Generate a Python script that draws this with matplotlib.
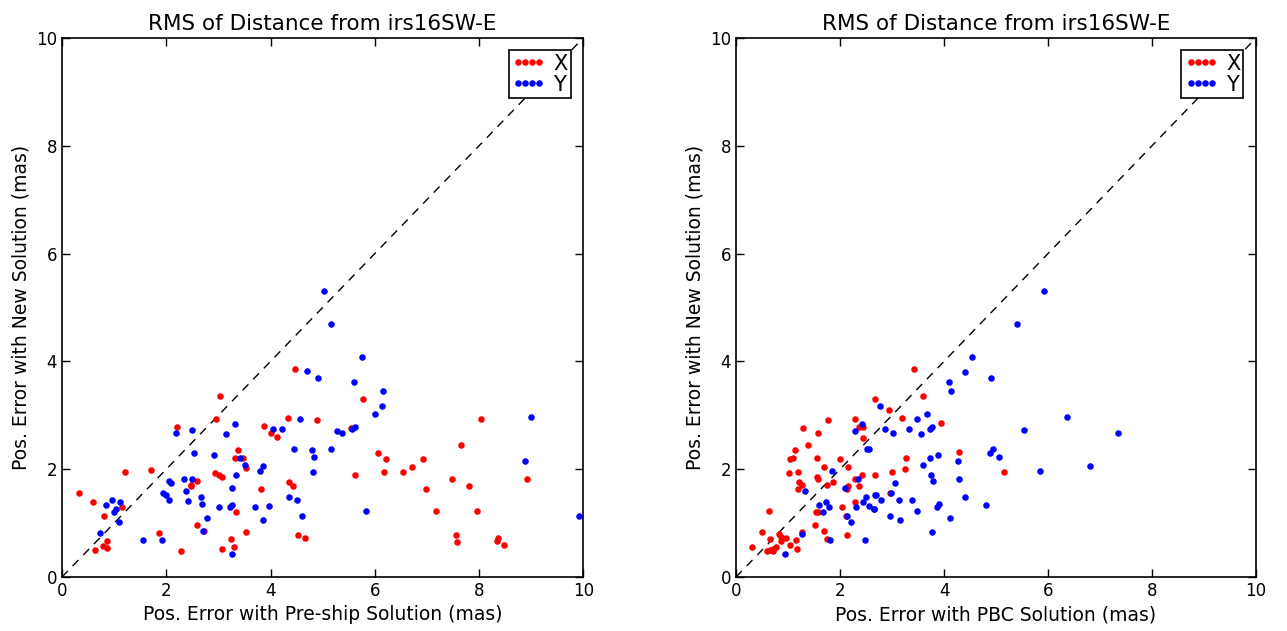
import matplotlib
matplotlib.use('Agg')
import matplotlib.pyplot as plt

# left panel: pre-ship solution vs new solution
pre_x_err = [3.04, 2.95, 2.21, 3.37, 3.31, 1.20, 1.70, 0.33, 0.60, 1.16, 0.81, 2.93, 3.01, 3.07,
             2.59, 2.48, 2.47, 3.33, 2.59, 2.73, 1.86, 0.86, 0.78, 0.87, 0.63, 2.28, 3.24, 3.30,
             3.07, 4.46, 5.78, 4.33, 4.89, 3.87, 4.00, 4.12, 5.54, 3.48, 3.53, 6.07, 6.21, 6.17,
             6.54, 5.62, 3.81, 4.36, 4.44, 3.52, 4.52, 4.67, 8.04, 7.65, 6.92, 6.72, 7.49, 7.80,
             6.98, 8.92, 7.17, 7.96, 7.56, 7.58, 8.34, 8.36, 8.48]
new_x_err_l = [3.35, 2.93, 2.79, 2.35, 2.21, 1.94, 1.99, 1.56, 1.40, 1.30, 1.13, 1.92, 1.90, 1.85,
               1.78, 1.71, 1.68, 1.21, 0.96, 0.85, 0.82, 0.67, 0.57, 0.54, 0.50, 0.48, 0.71, 0.56,
               0.52, 3.85, 3.30, 2.95, 2.91, 2.80, 2.68, 2.59, 2.76, 2.21, 2.03, 2.30, 2.18, 1.95,
               1.94, 1.89, 1.63, 1.77, 1.68, 0.83, 0.78, 0.72, 2.94, 2.45, 2.18, 2.04, 1.81, 1.69,
               1.64, 1.81, 1.22, 1.22, 0.78, 0.65, 0.67, 0.72, 0.59]
pre_y_err = [2.18, 2.50, 3.31, 3.15, 2.54, 2.92, 3.41, 3.34, 2.05, 2.10, 2.34, 2.50, 3.27, 2.38,
             1.94, 1.99, 2.05, 2.42, 2.67, 2.69, 3.02, 3.22, 3.26, 2.78, 2.71, 0.95, 0.85, 1.11,
             1.04, 1.00, 1.09, 0.73, 1.55, 1.91, 3.26, 5.03, 5.16, 5.75, 4.70, 4.91, 5.60, 6.16,
             6.14, 6.00, 4.56, 4.04, 4.22, 5.27, 5.38, 5.57, 5.62, 4.45, 4.79, 4.83, 5.16, 3.51,
             3.85, 3.80, 4.81, 4.36, 4.50, 4.60, 3.70, 3.97, 3.85, 5.84, 9.00, 8.89, 9.92]
new_y_err_l = [2.68, 2.73, 2.84, 2.66, 2.30, 2.26, 2.21, 1.90, 1.79, 1.75, 1.81, 1.81, 1.65, 1.59,
               1.56, 1.53, 1.42, 1.41, 1.48, 1.35, 1.29, 1.29, 1.34, 1.09, 0.85, 1.43, 1.34, 1.40,
               1.27, 1.21, 1.02, 0.81, 0.69, 0.69, 0.43, 5.30, 4.70, 4.08, 3.82, 3.69, 3.61, 3.45,
               3.18, 3.02, 2.94, 2.75, 2.75, 2.71, 2.68, 2.75, 2.78, 2.37, 2.36, 2.23, 2.37, 2.08,
               2.06, 1.97, 1.95, 1.49, 1.42, 1.14, 1.29, 1.31, 1.06, 1.22, 2.96, 2.15, 1.14]

# right panel: PBC solution vs new solution
pbc_x_err = [2.67, 1.76, 2.29, 2.37, 2.45, 1.29, 1.57, 2.45, 1.38, 1.13, 1.04, 1.09, 1.56, 2.00,
             1.69, 2.15, 1.01, 1.19, 2.67, 1.56, 1.57, 1.22, 1.26, 1.19, 1.75, 1.87, 2.29, 2.37,
             2.15, 2.14, 2.42, 0.64, 1.53, 1.57, 2.03, 2.29, 2.11, 1.51, 1.69, 2.13, 1.74, 0.49,
             0.65, 0.83, 0.87, 0.96, 0.87, 1.26, 1.15, 1.03, 1.17, 0.30, 0.60, 0.66, 0.72, 0.76,
             0.71, 3.43, 3.59, 2.94, 3.19, 3.94, 3.26, 3.25, 3.00, 4.29, 5.15, 2.96]
new_x_err_r = [3.30, 2.91, 2.94, 2.79, 2.79, 2.76, 2.68, 2.58, 2.45, 2.35, 2.18, 2.20, 2.21, 2.18,
               2.04, 2.04, 1.92, 1.95, 1.89, 1.86, 1.82, 1.77, 1.70, 1.64, 1.71, 1.76, 1.81, 1.69,
               1.69, 1.63, 1.89, 1.22, 1.21, 1.21, 1.30, 1.40, 1.14, 0.96, 0.85, 0.78, 0.71, 0.83,
               0.71, 0.80, 0.74, 0.72, 0.66, 0.83, 0.68, 0.59, 0.52, 0.56, 0.48, 0.50, 0.51, 0.55,
               0.49, 3.85, 3.35, 3.09, 2.95, 2.85, 2.20, 2.00, 1.94, 2.31, 1.94, 1.56]
pbc_y_err = [2.43, 2.28, 2.52, 2.56, 1.85, 2.35, 2.10, 1.33, 1.60, 1.73, 1.78, 1.68, 2.49, 2.44,
             2.55, 2.65, 2.67, 2.31, 2.14, 2.21, 2.48, 1.27, 1.80, 0.95, 4.54, 4.40, 4.90, 4.10,
             4.13, 2.76, 3.68, 3.48, 2.87, 3.01, 3.32, 3.55, 3.73, 3.76, 3.88, 3.74, 3.59, 4.27,
             4.89, 4.94, 5.06, 3.06, 3.75, 3.78, 4.28, 2.69, 2.79, 2.98, 3.13, 3.38, 2.66, 3.49,
             3.86, 3.90, 4.40, 4.81, 2.96, 3.16, 4.11, 3.77, 5.92, 5.40, 6.37, 5.54, 7.35, 6.81,
             5.85]
new_y_err_r = [2.84, 2.71, 2.37, 2.37, 1.96, 1.81, 1.66, 1.59, 1.34, 1.40, 1.30, 1.21, 1.48, 1.40,
               1.32, 1.27, 1.52, 1.30, 1.14, 1.02, 0.69, 0.80, 0.69, 0.43, 4.08, 3.81, 3.69, 3.61,
               3.45, 3.17, 3.02, 2.94, 2.74, 2.68, 2.75, 2.66, 2.75, 2.78, 2.26, 2.21, 2.08, 2.15,
               2.30, 2.37, 2.23, 1.75, 1.90, 1.78, 1.81, 1.52, 1.43, 1.55, 1.42, 1.42, 1.26, 1.22,
               1.29, 1.35, 1.49, 1.34, 1.14, 1.06, 1.09, 0.84, 5.30, 4.70, 2.96, 2.73, 2.67, 2.06,
               1.97]

title = 'RMS of Distance from irs16SW-E'
ylabel = 'Pos. Error with New Solution (mas)'
xlabels = ['Pos. Error with Pre-ship Solution (mas)', 'Pos. Error with PBC Solution (mas)']
ticks = [0, 2, 4, 6, 8, 10]

fig = plt.figure(figsize=(12.87, 6.31), dpi=100)
ax1 = fig.add_axes([0.0482, 0.0856, 0.405, 0.8542])
ax2 = fig.add_axes([0.5719, 0.0856, 0.404, 0.8542])

panels = [(ax1, pre_x_err, new_x_err_l, pre_y_err, new_y_err_l, xlabels[0]),
          (ax2, pbc_x_err, new_x_err_r, pbc_y_err, new_y_err_r, xlabels[1])]

for ax, xx, xy, yx, yy, xlab in panels:
    ax.plot(xx, xy, 'o', ms=4.7, color='red', mec='none', label='X', zorder=3)
    ax.plot(yx, yy, 'o', ms=4.7, color='blue', mec='none', label='Y', zorder=3)
    ax.plot([0, 10], [0, 10], 'k--', lw=1, dashes=(6, 5), zorder=2)
    ax.set_xlim(0, 10)
    ax.set_ylim(0, 10)
    ax.set_xticks(ticks)
    ax.set_yticks(ticks)
    ax.tick_params(direction='in', length=6, width=1, top=True, right=True, labelsize=12)
    for sp in ax.spines.values():
        sp.set_linewidth(1.2)
    ax.set_title(title, fontsize=15.5)
    ax.set_xlabel(xlab, fontsize=13.5)
    ax.set_ylabel(ylabel, fontsize=13.5)
    leg = ax.legend(loc='upper right', numpoints=4, fontsize=15, fancybox=False,
                    handletextpad=0.4, borderpad=0.15, labelspacing=0.05,
                    handlelength=1.6, borderaxespad=0.6, framealpha=1)
    leg.get_frame().set_edgecolor('black')
    leg.get_frame().set_linewidth(1.2)

fig.savefig('out.png', dpi=100)
